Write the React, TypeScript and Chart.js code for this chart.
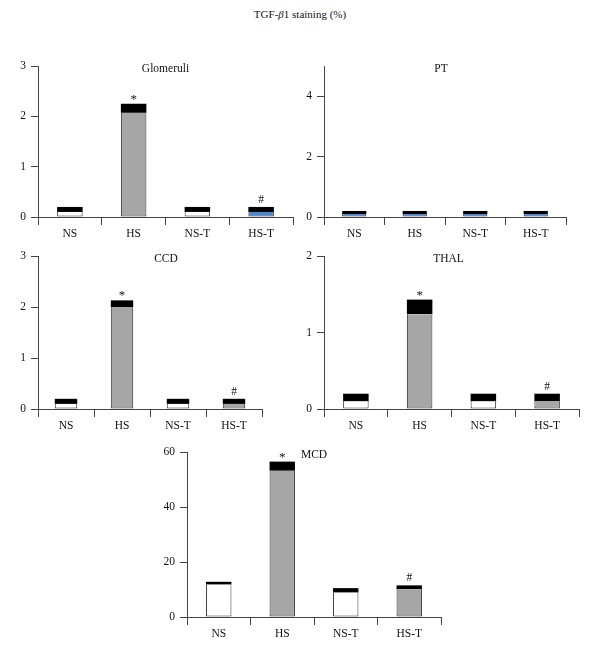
import React, { useEffect, useRef } from "react";
import { Chart, registerables } from "chart.js";

Chart.register(...registerables);

const categories = ["NS", "HS", "NS-T", "HS-T"];

const glomMeans = [0.1, 2.07, 0.1, 0.1];
const glomErr = [0.1, 0.18, 0.1, 0.1];
const glomMarks = ["", "*", "", "#"];

const ptMeans = [0.1, 0.1, 0.1, 0.1];
const ptErr = [0.1, 0.1, 0.1, 0.1];
const ptMarks = ["", "", "", ""];

const ccdMeans = [0.1, 2.0, 0.1, 0.1];
const ccdErr = [0.1, 0.13, 0.1, 0.1];
const ccdMarks = ["", "*", "", "#"];

const thalMeans = [0.1, 1.24, 0.1, 0.1];
const thalErr = [0.1, 0.19, 0.1, 0.1];
const thalMarks = ["", "*", "", "#"];

const mcdMeans = [11.8, 53.2, 8.9, 10.1];
const mcdErr = [1.0, 3.3, 1.6, 1.4];
const mcdMarks = ["", "*", "", "#"];

const WHITE = "#ffffff";
const GRAY = "#a6a6a6";
const BLUE = "#4a86d6";

const FONT = "'Liberation Serif', 'DejaVu Serif', serif";

type Panel = {
  title: string;
  means: number[];
  err: number[];
  marks: string[];
  colors: string[];
  max: number;
  step: number;
  left: number;
  right: number;
  top: number;
  bottom: number;
  titleDx: number;
};

const panels: Panel[] = [
  { title: "Glomeruli", means: glomMeans, err: glomErr, marks: glomMarks, colors: [WHITE, GRAY, WHITE, BLUE], max: 3, step: 1, left: 38, right: 293, top: 66, bottom: 217, titleDx: 0 },
  { title: "PT", means: ptMeans, err: ptErr, marks: ptMarks, colors: [BLUE, BLUE, BLUE, BLUE], max: 5, step: 2, left: 324, right: 566, top: 66, bottom: 217, titleDx: -4 },
  { title: "CCD", means: ccdMeans, err: ccdErr, marks: ccdMarks, colors: [WHITE, GRAY, WHITE, GRAY], max: 3, step: 1, left: 38, right: 262, top: 256, bottom: 409, titleDx: 16 },
  { title: "THAL", means: thalMeans, err: thalErr, marks: thalMarks, colors: [WHITE, GRAY, WHITE, GRAY], max: 2, step: 1, left: 324, right: 579, top: 256, bottom: 409, titleDx: -3 },
  { title: "MCD", means: mcdMeans, err: mcdErr, marks: mcdMarks, colors: [WHITE, GRAY, WHITE, GRAY], max: 60, step: 20, left: 187, right: 441, top: 452, bottom: 617, titleDx: 0 },
];

const PAD_L = 38;
const PAD_T = 12;
const PAD_R = 12;
const X_H = 30;

const annotPlugin = {
  id: "annot",
  afterDatasetsDraw(chart: any, _args: any, opts: any) {
    const ctx = chart.ctx;
    const area = chart.chartArea;
    ctx.save();
    ctx.fillStyle = "#111";
    ctx.textAlign = "center";
    ctx.font = `11.5px ${FONT}`;
    ctx.textBaseline = "top";
    ctx.fillText(opts.title, (area.left + area.right) / 2 + opts.titleDx, area.top - 3);
    const meta = chart.getDatasetMeta(1);
    opts.marks.forEach((m: string, i: number) => {
      if (!m) return;
      const el = meta.data[i];
      ctx.textBaseline = "alphabetic";
      if (m === "*") {
        ctx.font = `13px ${FONT}`;
        ctx.fillText(m, el.x, el.y - 1);
      } else {
        ctx.font = `11.5px ${FONT}`;
        ctx.fillText(m, el.x, el.y - 4);
      }
    });
    ctx.restore();
  },
};

function PanelChart({ p }: { p: Panel }) {
  const ref = useRef<HTMLCanvasElement>(null);
  const w = p.right - p.left + PAD_L + PAD_R;
  const h = p.bottom - p.top + PAD_T + X_H;
  useEffect(() => {
    if (!ref.current) return;
    const chart = new Chart(ref.current, {
      type: "bar",
      data: {
        labels: categories,
        datasets: [
          {
            data: p.means,
            backgroundColor: p.colors,
            borderColor: "#333",
            borderWidth: 1,
            borderSkipped: "top",
            barPercentage: 0.4,
            categoryPercentage: 1,
          },
          {
            data: p.err,
            backgroundColor: "#000",
            borderWidth: 0,
            barPercentage: 0.4,
            categoryPercentage: 1,
          },
        ],
      },
      plugins: [annotPlugin],
      options: {
        responsive: false,
        animation: false,
        layout: { padding: { top: PAD_T, right: PAD_R, left: 0, bottom: 0 } },
        plugins: {
          legend: { display: false },
          tooltip: { enabled: false },
          annot: { title: p.title, marks: p.marks, titleDx: p.titleDx },
        } as any,
        scales: {
          x: {
            stacked: true,
            offset: true,
            grid: { display: true, drawOnChartArea: false, drawTicks: true, tickLength: 8, offset: true, color: "#444", lineWidth: 1 },
            border: { display: true, color: "#444", width: 1 },
            ticks: { color: "#111", font: { family: FONT, size: 11.5 }, padding: 2, maxRotation: 0 },
            afterFit: (s: any) => {
              s.height = X_H;
            },
          },
          y: {
            stacked: true,
            min: 0,
            max: p.max,
            grid: { display: true, drawOnChartArea: false, drawTicks: true, tickLength: 7, color: "#444", lineWidth: 1 },
            border: { display: true, color: "#444", width: 1 },
            ticks: { stepSize: p.step, includeBounds: false, color: "#111", font: { family: FONT, size: 11.5 }, padding: 5 },
            afterFit: (s: any) => {
              s.width = PAD_L;
            },
          },
        },
      } as any,
    });
    return () => chart.destroy();
  }, []);
  return (
    <canvas
      ref={ref}
      width={w}
      height={h}
      style={{ position: "absolute", left: p.left - PAD_L, top: p.top - PAD_T, width: w, height: h }}
    />
  );
}

export default function App() {
  return (
    <div style={{ position: "absolute", left: 0, top: 0, width: 600, height: 659, background: "#fff" }}>
      <div
        style={{
          position: "absolute",
          left: 0,
          top: 8,
          width: 600,
          textAlign: "center",
          fontFamily: FONT,
          fontSize: 11,
          color: "#111",
        }}
      >
        TGF-<i>β</i>1 staining (%)
      </div>
      {panels.map((p, i) => (
        <PanelChart key={i} p={p} />
      ))}
    </div>
  );
}
